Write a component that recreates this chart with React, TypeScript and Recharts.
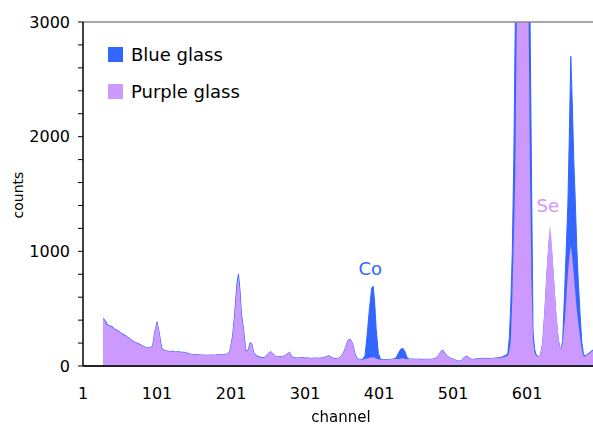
import React from "react";
import { AreaChart, Area, XAxis, YAxis, ReferenceLine, ReferenceDot } from "recharts";

// channel numbers of the sampled points
const channels = [
  28, 30, 33, 36, 40, 44, 48, 52, 56, 60,
  64, 68, 72, 76, 80, 84, 88, 92, 95, 98,
  101, 104, 107, 110, 114, 118, 122, 126, 130, 134,
  138, 142, 146, 150, 155, 160, 165, 170, 175, 180,
  185, 190, 195, 199, 203, 206, 209, 211, 213, 215,
  218, 221, 224, 227, 229, 232, 236, 240, 244, 248,
  252, 255, 258, 262, 266, 270, 274, 278, 280, 283,
  287, 291, 295, 300, 305, 310, 315, 320, 325, 330,
  333, 337, 341, 345, 349, 353, 356, 359, 362, 365,
  368, 371, 375, 379, 382, 385, 388, 391, 393, 395,
  397, 400, 403, 407, 411, 415, 419, 424, 427, 430,
  433, 436, 439, 442, 446, 450, 454, 458, 462, 466,
  470, 474, 478, 482, 485, 487, 490, 493, 497, 501,
  505, 509, 512, 515, 519, 523, 527, 531, 535, 539,
  543, 547, 551, 555, 559, 563, 567, 570, 573, 575,
  577, 579, 581, 583, 585, 587, 590, 593, 597, 601,
  603, 605, 607, 609, 611, 613, 616, 619, 622, 625,
  628, 631, 632, 634, 637, 640, 643, 645, 647, 649,
  652, 654, 656, 658, 660, 662, 664, 666, 668, 670,
  673, 675, 677, 679, 682, 685, 688, 690,
];

const purpleCounts = [
  420, 400, 360, 350, 338, 320, 302, 290, 270, 255,
  240, 215, 205, 192, 180, 166, 156, 160, 175, 300,
  385, 290, 160, 140, 130, 125, 128, 122, 125, 118,
  120, 110, 104, 100, 98, 96, 95, 93, 96, 95,
  100, 98, 104, 120, 250, 450, 700, 780, 650, 450,
  310, 125, 140, 200, 190, 110, 85, 75, 70, 80,
  115, 125, 105, 80, 78, 82, 90, 110, 120, 78,
  72, 70, 74, 68, 70, 66, 70, 68, 72, 82,
  90, 75, 62, 60, 80, 115, 170, 225, 235, 200,
  120, 65, 58, 55, 60, 65, 72, 75, 78, 72,
  65, 58, 55, 55, 52, 56, 60, 60, 62, 65,
  68, 62, 58, 60, 62, 58, 60, 56, 58, 60,
  58, 60, 70, 100, 130, 140, 110, 87, 70, 60,
  50, 40, 45, 70, 87, 70, 55, 62, 66, 64,
  68, 66, 65, 67, 70, 68, 72, 78, 85, 90,
  130, 226, 600, 1100, 1650, 3000, 7000, 9000, 8000, 5000,
  3000, 1600, 700, 220, 120, 90, 80, 100, 230, 550,
  900, 1180, 1226, 1100, 800, 500, 280, 170, 150, 200,
  400, 600, 800, 950, 1050, 950, 800, 650, 500, 380,
  230, 140, 90, 80, 95, 110, 125, 135,
];

const blueCounts = [
  420, 405, 372, 352, 345, 322, 308, 290, 275, 258,
  240, 220, 205, 196, 182, 168, 158, 160, 175, 300,
  385, 290, 162, 140, 132, 125, 130, 122, 125, 120,
  120, 112, 104, 100, 98, 96, 95, 93, 96, 95,
  100, 98, 104, 120, 255, 460, 720, 800, 665, 460,
  315, 130, 140, 205, 192, 110, 88, 78, 72, 80,
  115, 125, 105, 80, 80, 82, 90, 110, 120, 80,
  72, 70, 74, 70, 70, 66, 70, 68, 72, 82,
  90, 75, 64, 62, 80, 115, 170, 225, 235, 200,
  120, 66, 58, 60, 90, 280, 500, 680, 696, 560,
  330, 110, 58, 56, 54, 56, 60, 70, 110, 145,
  155, 125, 70, 60, 62, 58, 60, 58, 58, 60,
  58, 60, 70, 100, 130, 140, 110, 87, 70, 60,
  50, 42, 45, 70, 87, 70, 55, 62, 66, 64,
  68, 66, 65, 67, 70, 72, 78, 88, 95, 113,
  250, 550, 1000, 1800, 3000, 5500, 9000, 10000, 9500, 6500,
  4500, 3000, 1600, 300, 150, 100, 82, 95, 200, 480,
  820, 1100, 1130, 1000, 720, 430, 240, 160, 155, 220,
  700, 1050, 1400, 2000, 2700, 2300, 1800, 1450, 1050, 750,
  400, 200, 110, 85, 100, 115, 130, 140,
];

const xTicks = [1, 101, 201, 301, 401, 501, 601];
const yTicks = [0, 200, 400, 600, 800, 1000, 1200, 1400, 1600, 1800, 2000, 2200, 2400, 2600, 2800, 3000];

const legendItems = [
  { name: "Blue glass", color: "#3366ff" },
  { name: "Purple glass", color: "#cc99ff" },
];

const data = channels.map((channel, i) => ({
  channel,
  blue: blueCounts[i],
  purple: purpleCounts[i],
}));

const font = '"DejaVu Sans", sans-serif';

export default function App() {
  return (
    <div style={{ position: "fixed", left: 0, top: 0, width: 593, height: 425, fontFamily: font, background: "#fff" }}>
      <AreaChart width={593} height={425} data={data} margin={{ top: 22, right: 0, bottom: 0, left: 0 }}>
        <XAxis
          dataKey="channel"
          type="number"
          domain={[1, 690]}
          ticks={xTicks}
          allowDataOverflow
          tickLine={false}
          tickSize={0}
          tickMargin={22}
          height={59}
          axisLine={{ stroke: "#222", strokeWidth: 2 }}
          tick={{ fontSize: 16, fill: "#000" }}
        />
        <YAxis
          type="number"
          domain={[0, 3000]}
          ticks={yTicks}
          allowDataOverflow
          interval={0}
          width={83}
          tickSize={5}
          tickMargin={8}
          tickFormatter={(v: number) => (v % 1000 === 0 ? String(v) : "")}
          axisLine={{ stroke: "#000", strokeWidth: 1.5 }}
          tickLine={{ stroke: "#000" }}
          tick={{ fontSize: 16, fill: "#000" }}
        />
        <Area type="linear" dataKey="blue" fill="#3366ff" fillOpacity={1} stroke="#3366ff" strokeWidth={1} isAnimationActive={false} />
        <Area type="linear" dataKey="purple" fill="#cc99ff" fillOpacity={1} stroke="none" isAnimationActive={false} />
        <ReferenceLine y={3000} stroke="#888" strokeWidth={1.5} />
        <ReferenceDot x={389} y={850} r={0} stroke="none" fill="none" label={{ value: "Co", position: "center", fill: "#3366ff", fontSize: 18 }} />
        <ReferenceDot x={629} y={1400} r={0} stroke="none" fill="none" label={{ value: "Se", position: "center", fill: "#cc99ff", fontSize: 18 }} />
      </AreaChart>

      {legendItems.map((item, i) => (
        <div key={item.name} style={{ position: "absolute", left: 108, top: 47 + i * 37, display: "flex", alignItems: "center", height: 15 }}>
          <div style={{ width: 15, height: 15, background: item.color }} />
          <span style={{ marginLeft: 8, fontSize: 18, lineHeight: "15px", color: "#000" }}>{item.name}</span>
        </div>
      ))}

      <div style={{ position: "absolute", left: 18, top: 195, transform: "translate(-50%, -50%) rotate(-90deg)", fontSize: 14, whiteSpace: "nowrap" }}>
        counts
      </div>
      <div style={{ position: "absolute", left: 341, top: 417, transform: "translate(-50%, -50%)", fontSize: 15, whiteSpace: "nowrap" }}>
        channel
      </div>
    </div>
  );
}
